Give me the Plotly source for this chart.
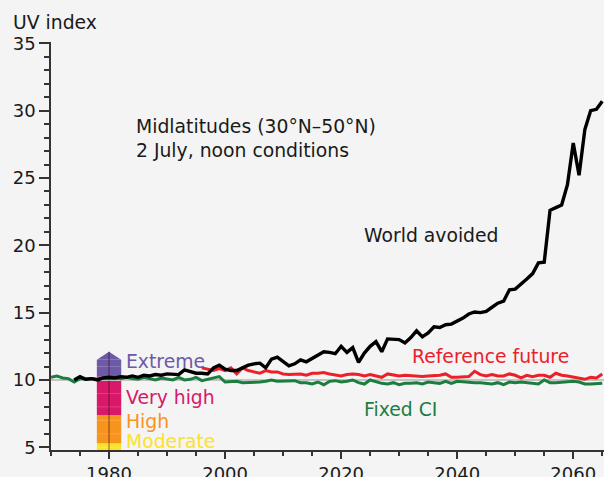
import plotly.graph_objects as go

# ---- data ----
years_fixed = list(range(1970, 2066))
fixed_ci = [10.2, 10.3, 10.15, 10.1, 9.85, 10.1, 10.05, 10.1, 10.05, 10.15,
            10.1, 10.15, 10.1, 10.2, 10.1, 10.05, 10.2, 10.1, 10.0, 10.15,
            10.05, 10.0, 10.2, 10.0, 10.05, 10.2, 9.95, 10.05, 10.1, 10.25,
            9.85, 9.9, 9.9, 9.8, 9.8, 9.8, 9.85, 9.9, 10.0, 9.9,
            9.9, 9.9, 9.95, 9.8, 9.8, 9.7, 9.85, 9.65, 9.9, 9.95,
            9.85, 9.9, 10.0, 9.8, 9.7, 10.0, 9.85, 9.75, 9.7, 9.8,
            9.65, 9.75, 9.75, 9.8, 9.7, 9.85, 9.8, 9.75, 9.9, 9.75,
            9.9, 9.85, 9.85, 9.8, 9.8, 9.75, 9.7, 9.8, 9.65, 9.85,
            9.8, 9.85, 9.8, 9.8, 9.7, 10.0, 9.8, 9.8, 9.85, 9.85,
            9.9, 9.85, 9.7, 9.7, 9.75, 9.75]

years_ref = list(range(1996, 2066))
reference_future = [10.9, 10.8, 10.7, 10.85,
                    10.7, 10.9, 10.45, 10.9, 10.7, 10.6, 10.5, 10.7, 10.6, 10.6,
                    10.45, 10.4, 10.45, 10.45, 10.35, 10.5, 10.5, 10.55, 10.45, 10.35,
                    10.3, 10.4, 10.45, 10.4, 10.3, 10.4, 10.3, 10.2, 10.45, 10.35,
                    10.3, 10.35, 10.3, 10.3, 10.25, 10.3, 10.3, 10.35, 10.45, 10.2,
                    10.2, 10.25, 10.25, 10.65, 10.4, 10.3, 10.4, 10.3, 10.3, 10.45,
                    10.35, 10.15, 10.35, 10.25, 10.35, 10.35, 10.2, 10.5, 10.35, 10.3,
                    10.2, 10.15, 10.05, 10.2, 10.15, 10.45]

years_avoided = list(range(1974, 2066))
world_avoided = [10.0, 10.25, 10.05, 10.1, 10.0, 10.15,
                 10.2, 10.15, 10.25, 10.2, 10.3, 10.2, 10.35, 10.3, 10.4, 10.35,
                 10.45, 10.45, 10.4, 10.75, 10.6, 10.5, 10.5, 10.45, 10.9, 11.1,
                 10.8, 10.7, 10.7, 10.9, 11.1, 11.2, 11.25, 10.9, 11.55, 11.7,
                 11.4, 11.05, 11.2, 11.5, 11.35, 11.6, 11.8, 12.1, 12.05, 11.95,
                 12.5, 12.05, 12.4, 11.3, 12.0, 12.5, 12.85, 12.1, 13.05, 13.05,
                 13.0, 12.75, 13.15, 13.65, 13.2, 13.5, 13.95, 13.9, 14.1, 14.15,
                 14.35, 14.6, 14.9, 15.05, 15.0, 15.1, 15.4, 15.7, 15.85, 16.7,
                 16.75, 17.1, 17.5, 17.9, 18.7, 18.75, 22.6, 22.8, 23.0, 24.5,
                 27.6, 25.2, 28.6, 30.0, 30.1, 30.7]

uv_bands = ["Moderate", "High", "Very high", "Extreme"]
uv_band_lo = [4.8, 5.3, 7.4, 10.25]
uv_band_hi = [5.3, 7.4, 10.25, 11.5]
uv_band_colors = ["#fbe22c", "#f7941e", "#d8196a", "#6c5aa8"]
uv_label_y = [5.45, 6.9, 8.7, 11.4]
bar_year = 1980
arrow_tip = 12.1

x_ticks = [1980, 2000, 2020, 2040, 2060]
y_ticks = [5, 10, 15, 20, 25, 30, 35]

FONT = "DejaVu Sans"
BG = "#f3f4f3"
TXT = 18.8

fig = go.Figure()

# reference line at 10
fig.add_trace(go.Scatter(x=[1970, 2065.3], y=[10, 10], mode="lines",
                         line=dict(color="#c4c4c4", width=2), hoverinfo="skip",
                         showlegend=False))

fig.add_trace(go.Scatter(x=years_fixed, y=fixed_ci, mode="lines",
                         line=dict(color="#1b7d3e", width=3), name="Fixed CI",
                         showlegend=False))
fig.add_trace(go.Scatter(x=years_ref, y=reference_future, mode="lines",
                         line=dict(color="#ec2028", width=3), name="Reference future",
                         showlegend=False))
fig.add_trace(go.Scatter(x=years_avoided, y=world_avoided, mode="lines",
                         line=dict(color="#000000", width=3.4), name="World avoided",
                         showlegend=False))

# UV category bar
half = 2.1
shapes = []
for lo, hi, c in zip(uv_band_lo, uv_band_hi, uv_band_colors):
    shapes.append(dict(type="rect", xref="x", yref="y", x0=bar_year - half, x1=bar_year + half,
                       y0=lo, y1=hi, fillcolor=c, line=dict(width=0), layer="below"))
shapes.append(dict(type="path", xref="x", yref="y",
                   path=f"M {bar_year - half} {uv_band_hi[-1]} L {bar_year + half} {uv_band_hi[-1]} L {bar_year} {arrow_tip} Z",
                   fillcolor=uv_band_colors[-1], line=dict(width=0), layer="below"))
# faint inner grid of the bar
for v in range(5, 12):
    shapes.append(dict(type="line", xref="x", yref="y", x0=bar_year - half, x1=bar_year + half,
                       y0=v, y1=v, line=dict(color="rgba(255,255,255,0.18)", width=1), layer="below"))
shapes.append(dict(type="line", xref="x", yref="y", x0=bar_year, x1=bar_year,
                   y0=4.8, y1=arrow_tip, line=dict(color="rgba(60,0,30,0.3)", width=2), layer="below"))

annotations = []
for name, y, c in zip(uv_bands, uv_label_y, uv_band_colors):
    annotations.append(dict(x=bar_year + 2.5, y=y, xref="x", yref="y", text=name,
                            showarrow=False, xanchor="left", yanchor="middle",
                            font=dict(family=FONT, size=TXT, color=c)))

annotations += [
    dict(x=0, y=1.0, xref="paper", yref="paper", text="UV index", showarrow=False,
         xanchor="left", yanchor="bottom", yshift=7, xshift=-40,
         font=dict(family=FONT, size=TXT, color="#1a1a1a")),
    dict(x=1984.3, y=27.9, xref="x", yref="y",
         text="Midlatitudes (30°N–50°N)<br>2 July, noon conditions",
         showarrow=False, xanchor="left", yanchor="middle", align="left",
         font=dict(family=FONT, size=TXT, color="#1a1a1a")),
    dict(x=2023.6, y=20.7, xref="x", yref="y", text="World avoided", showarrow=False,
         xanchor="left", yanchor="middle", font=dict(family=FONT, size=TXT, color="#1a1a1a")),
    dict(x=2031.8, y=11.75, xref="x", yref="y", text="Reference future", showarrow=False,
         xanchor="left", yanchor="middle", font=dict(family=FONT, size=TXT, color="#ec2028")),
    dict(x=2023.6, y=7.8, xref="x", yref="y", text="Fixed CI", showarrow=False,
         xanchor="left", yanchor="middle", font=dict(family=FONT, size=TXT, color="#1b7d3e")),
]

fig.update_layout(
    width=604, height=477,
    margin=dict(l=51, r=0, t=42, b=27),
    paper_bgcolor=BG, plot_bgcolor=BG,
    shapes=shapes, annotations=annotations,
    font=dict(family=FONT, size=18, color="#1a1a1a"),
    xaxis=dict(range=[1970, 2065.3], tickvals=x_ticks, ticks="outside", ticklen=7,
               tickwidth=1.5, tickcolor="#333", showgrid=False, zeroline=False,
               showline=True, linecolor="#333", linewidth=1.5, automargin=False,
               minor=dict(dtick=5, tick0=1970, ticks="outside", ticklen=4, tickcolor="#333", tickwidth=1.5),
               tickfont=dict(family=FONT, size=18, color="#1a1a1a")),
    yaxis=dict(range=[4.8, 35.1], tickvals=y_ticks, ticks="outside", ticklen=10,
               tickwidth=1.5, tickcolor="#333", showgrid=False, zeroline=False,
               showline=True, linecolor="#333", linewidth=1.5, automargin=False,
               minor=dict(dtick=1, tick0=5, ticks="outside", ticklen=5, tickcolor="#333", tickwidth=1.5),
               tickfont=dict(family=FONT, size=18, color="#1a1a1a")),
)

fig.write_html(
    "out.html",
    config={"displayModeBar": False},
    post_script=(
        "document.body.style.margin='0';"
        "document.body.style.overflow='hidden';"
        f"document.body.style.background='{BG}';"
    ),
)
